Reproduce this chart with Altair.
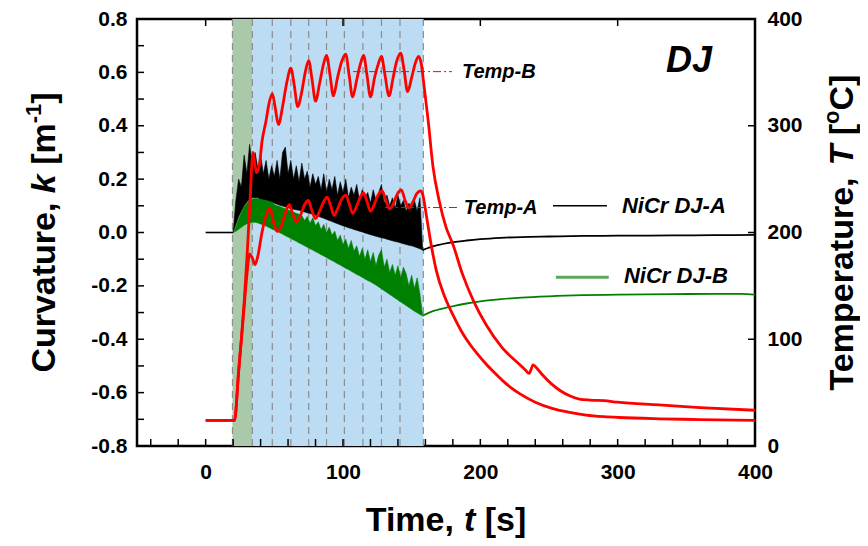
import altair as alt
import pandas as pd

FONT = "Liberation Sans"
W, H = 618, 427

# ---------------- data ----------------
# common sample times of the oscillating section
t_grid = [20, 22, 24, 26, 28, 30, 32, 34, 36, 38,
          40, 42, 44, 46, 48, 50, 52, 54, 56, 58,
          60, 62, 64, 66, 68, 70, 72, 74, 76, 78,
          80, 82, 84, 86, 88, 90, 92, 94, 96, 98,
          100, 102, 104, 106, 108, 110, 112, 114, 116, 118,
          120, 122, 124, 126, 128, 130, 132, 134, 136, 138,
          140, 142, 144, 146, 148, 150, 152, 154, 156, 158]

# NiCr DJ-A curvature: lower edge / spiky upper edge
a_lo = [0.0, 0.03, 0.06, 0.08, 0.1, 0.115, 0.125, 0.13, 0.13, 0.13,
        0.124, 0.122, 0.12, 0.117, 0.114, 0.11, 0.106, 0.102, 0.099, 0.096,
        0.093, 0.09, 0.087, 0.085, 0.083, 0.08, 0.077, 0.074, 0.071, 0.068,
        0.065, 0.061, 0.057, 0.053, 0.049, 0.045, 0.041, 0.037, 0.033, 0.029,
        0.025, 0.022, 0.018, 0.015, 0.011, 0.008, 0.005, 0.002, -0.002, -0.005,
        -0.008, -0.011, -0.014, -0.017, -0.02, -0.022, -0.025, -0.028, -0.031, -0.034,
        -0.036, -0.039, -0.042, -0.045, -0.048, -0.05, -0.053, -0.057, -0.061, -0.066]
a_hi = [0.0, 0.12, 0.2, 0.17, 0.29, 0.22, 0.33, 0.25, 0.3, 0.24,
        0.29, 0.22, 0.27, 0.2, 0.25, 0.21, 0.27, 0.2, 0.3, 0.32,
        0.22, 0.27, 0.2, 0.25, 0.19, 0.26, 0.2, 0.23, 0.17, 0.22,
        0.18, 0.21, 0.16, 0.22, 0.15, 0.2, 0.16, 0.21, 0.14, 0.19,
        0.15, 0.2, 0.13, 0.17, 0.14, 0.18, 0.12, 0.16, 0.13, 0.15,
        0.11, 0.16, 0.12, 0.15, 0.18, 0.11, 0.14, 0.1, 0.13, 0.09,
        0.14, 0.1, 0.12, 0.08, 0.11, 0.09, 0.12, 0.08, 0.13, -0.066]

# NiCr DJ-B curvature: lower edge / spiky upper edge
b_lo = [0.0, 0.005, 0.012, 0.02, 0.027, 0.033, 0.036, 0.038, 0.038, 0.036,
        0.032, 0.028, 0.024, 0.019, 0.014, 0.009, 0.004, -0.001, -0.006, -0.012,
        -0.017, -0.022, -0.028, -0.033, -0.039, -0.044, -0.05, -0.055, -0.061, -0.066,
        -0.072, -0.077, -0.083, -0.088, -0.094, -0.1, -0.105, -0.111, -0.117, -0.122,
        -0.128, -0.134, -0.139, -0.145, -0.151, -0.157, -0.162, -0.168, -0.174, -0.18,
        -0.185, -0.191, -0.197, -0.204, -0.211, -0.218, -0.225, -0.232, -0.239, -0.246,
        -0.253, -0.26, -0.267, -0.274, -0.281, -0.288, -0.295, -0.301, -0.307, -0.312]
b_hi = [0.0, 0.02, 0.05, 0.075, 0.095, 0.11, 0.12, 0.125, 0.127, 0.126,
        0.124, 0.122, 0.12, 0.117, 0.114, 0.105, 0.1, 0.097, 0.093, 0.089,
        0.085, 0.08, 0.076, 0.072, 0.068, 0.064, 0.045, 0.06, 0.035, 0.055,
        0.025, 0.04, 0.01, 0.03, 0.0, 0.02, -0.01, 0.005, -0.03, -0.01,
        -0.045, -0.025, -0.06, -0.03, -0.07, -0.05, -0.09, -0.06, -0.1, -0.065,
        -0.11, -0.075, -0.125, -0.085, -0.065, -0.13, -0.1, -0.15, -0.12, -0.16,
        -0.125, -0.17, -0.13, -0.155, -0.2, -0.16, -0.21, -0.17, -0.23, -0.312]

# smooth parts before / after the cycling
flat_t = [0, 20]
flat_k = [0.0, 0.0]
a_after_t = [158, 162, 166, 170, 176, 182, 190, 200, 215, 230, 250, 275, 300, 340, 370, 400]
a_after_k = [-0.066, -0.058, -0.051, -0.046, -0.04, -0.035, -0.03, -0.025, -0.02, -0.017,
             -0.015, -0.013, -0.012, -0.011, -0.01, -0.009]
b_after_t = [158, 162, 166, 170, 176, 182, 190, 200, 215, 230, 250, 275, 300, 340, 370, 390, 400]
b_after_k = [-0.312, -0.302, -0.294, -0.288, -0.281, -0.274, -0.266, -0.258, -0.25, -0.244,
             -0.239, -0.235, -0.233, -0.231, -0.23, -0.23, -0.233]

# temperatures
tb_t = [0, 21, 24, 26, 28, 30, 32, 34.5, 37, 39, 41, 44, 46, 48.5, 50.5, 53, 56, 59, 62, 64.5,
        67, 70, 72.5, 75, 77.5, 80, 83, 85.5, 88, 90.5, 93, 96, 99, 102, 104.5, 107, 110, 112.5,
        115, 117.5, 120, 123, 125.5, 128, 130.5, 133.5, 136.5, 139, 142, 144.5, 147, 150, 152.5,
        155, 157, 158.5, 162, 165.5, 170, 175, 180, 187, 195, 204, 216, 228, 233, 235.5, 238.5,
        241, 245, 252, 258, 265, 272, 280, 290, 300, 330, 360, 400]
tb_T = [24, 24, 70, 100, 134, 175, 222, 275, 256, 262, 285, 305, 320, 330, 318, 301, 318, 340, 354, 338,
        318, 332, 350, 361, 343, 323, 340, 356, 366, 348, 328, 345, 360, 367, 347, 327, 343, 357,
        366, 347, 327, 345, 357, 365, 348, 328, 345, 360, 368, 352, 332, 345, 358,
        365, 358, 343, 305, 262, 230, 205, 189, 161, 136, 114, 92, 77, 71, 68, 76,
        73, 67, 58, 52, 47, 44, 43, 42.5, 41, 38.5, 36, 33.5]
ta_t = [0, 21, 24, 26, 28, 30, 32, 34, 36, 38, 41, 44, 46.8, 49, 52, 55, 58, 60.8, 63, 66,
        69, 72, 74.8, 77, 80, 83, 86, 88.5, 91, 93.5, 96, 99, 102, 104.5, 107, 110, 112.5, 115,
        117.5, 120, 123, 125.5, 128.5, 131, 134, 137, 139.5, 142.5, 145, 148, 151, 153.5, 156.5,
        158, 160.7, 164, 168, 174, 180, 186, 192, 198, 204, 210, 216, 222, 228.6, 240, 252.8,
        265, 277, 290, 301, 330, 360, 400]
ta_T = [24, 24, 70, 100, 130, 160, 180, 176, 170, 178, 200, 216, 223, 212, 201, 206, 218, 226, 219, 210,
        216, 226, 230, 222, 213, 220, 229, 233, 225, 216, 222, 231, 235, 227, 218, 225, 233, 237,
        229, 220, 227, 235, 239, 231, 222, 228, 236, 240, 231, 223, 229, 236, 239,
        236, 216, 190, 164, 140, 123, 108, 96, 86, 77, 69, 61.5, 55, 49, 41, 35,
        31.5, 29, 27.5, 26.7, 25.5, 24.8, 24]

# test stages and cycle boundaries
stage_start = [19.5, 34]
stage_end = [34, 158.5]
stage_name = ["heating", "cycling"]
cycle_t = [19.5, 34, 48.5, 62, 75, 88, 101, 114.5, 128, 141.5, 158.5]

# axis ticks / labels
x_labels = [0, 100, 200, 300, 400]
x_ticks = [-40, -20, 0, 20, 40, 60, 80, 100, 120, 140, 160, 180, 200, 220, 240, 260,
           280, 300, 320, 340, 360, 380]
x_top_ticks = [0, 100, 200, 300]
k_labels = [-0.8, -0.6, -0.4, -0.2, 0.0, 0.2, 0.4, 0.6, 0.8]
k_ticks = [-0.7, -0.6, -0.5, -0.4, -0.3, -0.2, -0.1, 0.0, 0.1, 0.2, 0.3, 0.4, 0.5, 0.6, 0.7]
T_labels = [0, 100, 200, 300, 400]
T_ticks = [100, 200, 300]

# annotations
curve_lab_t = [303.1, 304.6]
curve_lab_k = [0.1005, -0.164]
curve_lab = ["NiCr DJ-A", "NiCr DJ-B"]
temp_lab_t = [186.6, 188.0]
temp_lab_T = [350.7, 223.4]
temp_lab = ["Temp-B", "Temp-A"]
temp_mark_t0 = [107.3, 130.6]
temp_mark_t1 = [179.3, 185.2]

# ---------------- scales / axes ----------------
xs = alt.Scale(domain=[-50, 400], nice=False, zero=False)
ks = alt.Scale(domain=[-0.8, 0.8], nice=False, zero=False)
Ts = alt.Scale(domain=[0, 400], nice=False, zero=False)

common = dict(labelFont=FONT, labelFontSize=21, labelFontWeight="bold", labelColor="black",
              ticks=False, domain=False, grid=False, title=None, labelFlush=False,
              labelOverlap=False)
xax = alt.Axis(values=x_labels, format="d", labelPadding=15, **common)
kax = alt.Axis(values=k_labels, labelPadding=10,
               labelExpr="(datum.value < -0.0001 ? '-' : '') + format(abs(datum.value), '.1f')",
               **common)
Tax = alt.Axis(orient="right", values=T_labels, format="d", labelPadding=12, **common)


def X(f):
    return alt.X(f, type="quantitative", scale=xs, axis=xax)


def K(f):
    return alt.Y(f, type="quantitative", scale=ks, axis=kax)


def TT(f):
    return alt.Y(f, type="quantitative", scale=Ts, axis=Tax)


one = alt.Data(values=[{"a": 1}])


def piece(text, x, y, angle=0, size=34, style="normal"):
    return alt.Chart(one).mark_text(
        text=text, font=FONT, fontSize=size, fontWeight="bold", fontStyle=style,
        angle=angle, align="left", baseline="alphabetic", color="black"
    ).encode(x=alt.value(x), y=alt.value(y))


# ---------------- k (curvature) group ----------------
stages = pd.DataFrame({"t0": stage_start, "t1": stage_end, "stage": stage_name})
bg = alt.Chart(stages).mark_rect(opacity=1).encode(
    x=X("t0"), x2="t1", y=alt.value(0), y2=alt.value(H),
    color=alt.Color("stage:N", scale=alt.Scale(domain=stage_name, range=["#a9c9aa", "#bcdcf4"]),
                    legend=None))

cyc = alt.Chart(pd.DataFrame({"t": cycle_t})).mark_rule(
    color="#8c8c8c", strokeWidth=1.2, strokeDash=[7, 5]).encode(x=X("t"))

dfA = pd.DataFrame({"t": t_grid, "lo": a_lo, "hi": a_hi})
dfB = pd.DataFrame({"t": t_grid, "lo": b_lo, "hi": b_hi})
areaA = alt.Chart(dfA).mark_area(color="black", stroke="black", strokeWidth=0.6).encode(
    x=X("t"), y=K("lo"), y2="hi")
areaB = alt.Chart(dfB).mark_area(color="#008000", stroke="#008000", strokeWidth=0.6).encode(
    x=X("t"), y=K("lo"), y2="hi")

flat = alt.Chart(pd.DataFrame({"t": flat_t, "k": flat_k})).mark_line(
    color="black", strokeWidth=1.6).encode(x=X("t"), y=K("k"))
afterA = alt.Chart(pd.DataFrame({"t": a_after_t, "k": a_after_k})).mark_line(
    color="black", strokeWidth=1.8, interpolate="monotone").encode(x=X("t"), y=K("k"))
afterB = alt.Chart(pd.DataFrame({"t": b_after_t, "k": b_after_k})).mark_line(
    color="#008000", strokeWidth=1.8, interpolate="monotone").encode(x=X("t"), y=K("k"))

legA = alt.Chart(pd.DataFrame({"t0": [252.9], "t1": [292.2], "k": [0.1005]})).mark_rule(
    color="black", strokeWidth=1.5).encode(x=X("t0"), x2="t1", y=K("k"))
legB = alt.Chart(pd.DataFrame({"t0": [255.0], "t1": [293.5], "k": [-0.1675]})).mark_rule(
    color="#5aa85a", strokeWidth=3).encode(x=X("t0"), x2="t1", y=K("k"))
curve_text = alt.Chart(pd.DataFrame({"t": curve_lab_t, "k": curve_lab_k, "lab": curve_lab})).mark_text(
    font=FONT, fontSize=22, fontWeight="bold", fontStyle="italic", align="left",
    baseline="middle", color="black").encode(x=X("t"), y=K("k"), text="lab:N")
dj = alt.Chart(pd.DataFrame({"t": [335.2], "k": [0.644], "lab": ["DJ"]})).mark_text(
    font=FONT, fontSize=36, fontWeight="bold", fontStyle="italic", align="left",
    baseline="middle", color="black").encode(x=X("t"), y=K("k"), text="lab:N")

xt_b = alt.Chart(pd.DataFrame({"t": x_ticks})).mark_rule(color="black", strokeWidth=1.5).encode(
    x=X("t"), y=alt.value(H), y2=alt.value(H - 7))
xt_t = alt.Chart(pd.DataFrame({"t": x_top_ticks})).mark_rule(color="black", strokeWidth=1.5).encode(
    x=X("t"), y=alt.value(0), y2=alt.value(7))
kt = alt.Chart(pd.DataFrame({"k": k_ticks})).mark_rule(color="black", strokeWidth=1.5).encode(
    y=K("k"), x=alt.value(0), x2=alt.value(7))

cy = H / 2
titles = [
    piece("Curvature,", -82, cy + 140.1, 270),
    piece("k", -82, cy - 39.35, 270, style="italic"),
    piece("[m", -82, cy - 67.7, 270),
    piece("-1", -96, cy - 109.2, 270, size=22),
    piece("]", -82, cy - 128.8, 270),
    piece("Temperature,", 716, cy + 157.9, 270),
    piece("T", 716, cy - 66.95, 270, style="italic"),
    piece("[", 716, cy - 97.2, 270),
    piece("o", 702, cy - 108.5, 270, size=22),
    piece("C]", 716, cy - 121.9, 270),
    piece("Time,", 228.75, 512),
    piece("t", 327.0, 512, style="italic"),
    piece("[s]", 347.75, 512),
]

kgroup = alt.layer(bg, cyc, areaA, areaB, flat, afterA, afterB, legA, legB, curve_text, dj,
                   xt_b, xt_t, kt, *titles)

# ---------------- T (temperature) group ----------------
lineB = alt.Chart(pd.DataFrame({"t": tb_t, "T": tb_T})).mark_line(
    color="#ff0000", strokeWidth=2.8, interpolate="monotone").encode(x=X("t"), y=TT("T"))
lineA = alt.Chart(pd.DataFrame({"t": ta_t, "T": ta_T})).mark_line(
    color="#ff0000", strokeWidth=2.8, interpolate="monotone").encode(x=X("t"), y=TT("T"))
marks = alt.Chart(pd.DataFrame({"t0": temp_mark_t0, "t1": temp_mark_t1, "T": temp_lab_T})).mark_rule(
    color="#ff0000", strokeWidth=1, strokeDash=[8, 3, 2, 3]).encode(x=X("t0"), x2="t1", y=TT("T"))
temp_text = alt.Chart(pd.DataFrame({"t": temp_lab_t, "T": temp_lab_T, "lab": temp_lab})).mark_text(
    font=FONT, fontSize=20, fontWeight="bold", fontStyle="italic", align="left",
    baseline="middle", color="black").encode(x=X("t"), y=TT("T"), text="lab:N")
Tt = alt.Chart(pd.DataFrame({"T": T_ticks})).mark_rule(color="black", strokeWidth=1.5).encode(
    y=TT("T"), x=alt.value(W), x2=alt.value(W - 7))

Tgroup = alt.layer(lineA, lineB, marks, temp_text, Tt)

chart = alt.layer(kgroup, Tgroup).resolve_scale(y="independent").properties(
    width=W, height=H,
    autosize=alt.AutoSizeParams(type="none"),
    padding={"left": 129, "top": 11, "right": 105, "bottom": 92},
    background="white",
).configure_view(stroke="black", strokeWidth=2.5)

chart.save("out.html", embed_options={"renderer": "svg", "actions": False})
